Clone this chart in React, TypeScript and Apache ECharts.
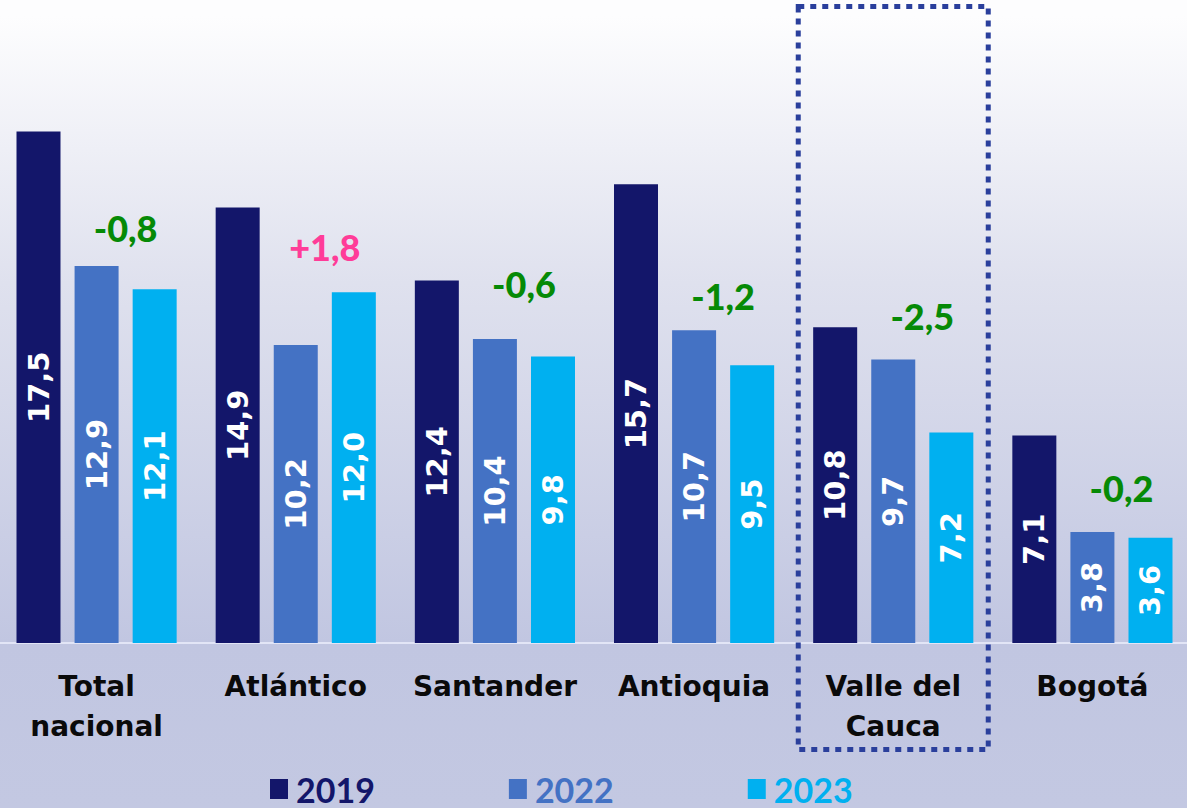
import React, { useEffect, useRef } from "react";
import * as echarts from "echarts";

const categories = ["Total\nnacional", "Atlántico", "Santander", "Antioquia", "Valle del\nCauca", "Bogotá"];
const seriesNames = ["2019", "2022", "2023"];
const values2019 = [17.5, 14.9, 12.4, 15.7, 10.8, 7.1];
const values2022 = [12.9, 10.2, 10.4, 10.7, 9.7, 3.8];
const values2023 = [12.1, 12.0, 9.8, 9.5, 7.2, 3.6];
const changeLabels = ["-0,8", "+1,8", "-0,6", "-1,2", "-2,5", "-0,2"];
const changeLabelHeights = [14.2, 13.55, 12.3, 11.87, 11.19, 5.3];
const highlightedCategory = "Valle del\nCauca";

const colors = ["#13166a", "#4472c4", "#00b0f0"];
const GREEN = "#068a06";
const PINK = "#ff3c98";
const SHIFT = 3;

export default function App() {
  const ref = useRef<HTMLDivElement>(null);

  useEffect(() => {
    if (!ref.current) return;
    const chart = echarts.init(ref.current, null, { renderer: "svg" });
    const fmt = (v: number) => v.toFixed(1).replace(".", ",");
    const valueLabel = {
      show: true,
      position: "inside",
      rotate: 90,
      color: "#ffffff",
      fontFamily: "DejaVu Sans",
      fontWeight: "bold",
      fontSize: 29,
      formatter: (p: any) => fmt(p.value),
    };
    const barSeries = [values2019, values2022, values2023].map((vals, i) => ({
      name: seriesNames[i],
      type: "bar",
      data: vals,
      barWidth: 44,
      barGap: "32%",
      itemStyle: { color: colors[i] },
      label: valueLabel,
    }));

    chart.setOption({
      animation: false,
      grid: { left: 0, right: 0, top: 0, bottom: 165, containLabel: false },
      xAxis: {
        type: "category",
        data: categories,
        axisTick: { show: false },
        axisLine: { show: true, lineStyle: { color: "#e2e5f6", width: 2 } },
        axisLabel: {
          color: "#0a0a0a",
          fontFamily: "DejaVu Sans",
          fontWeight: "bold",
          fontSize: 28,
          lineHeight: 40,
          margin: 23,
          interval: 0,
        },
      },
      yAxis: {
        type: "value",
        min: 0,
        max: 22,
        show: false,
        splitLine: { show: false },
      },
      legend: {
        data: seriesNames.map((n, i) => ({ name: n, textStyle: { color: colors[i] } })),
        left: 270 + SHIFT,
        top: 771,
        padding: 0,
        icon: "rect",
        itemWidth: 18,
        itemHeight: 20,
        itemGap: 134,
        selectedMode: false,
        textStyle: {
          fontFamily: "Lato",
          fontWeight: "bold",
          fontSize: 34,
          lineHeight: 36,
          padding: [0, 0, 0, 3],
        },
      },
      series: [
        ...barSeries,
        {
          type: "custom",
          name: "cambio",
          data: changeLabelHeights.map((h, i) => [i, h]),
          z: 10,
          renderItem: (params: any, api: any) => {
            const p = api.coord([api.value(0), api.value(1)]);
            const t = changeLabels[params.dataIndex];
            return {
              type: "text",
              x: p[0] + 29,
              y: p[1],
              style: {
                text: t,
                fill: t.startsWith("+") ? PINK : GREEN,
                fontFamily: "Lato",
                fontWeight: 900,
                fontSize: 36,
                align: "center",
                verticalAlign: "middle",
              },
            };
          },
        },
      ],
    });

    const cx = chart.convertToPixel({ xAxisIndex: 0 }, highlightedCategory) as number;
    chart.setOption({
      graphic: [
        {
          type: "rect",
          z: 100,
          shape: { x: cx - 95, y: 6.5, width: 190, height: 743 },
          style: { fill: "none", stroke: "#2a3f9c", lineWidth: 5, lineDash: [6, 6] },
        },
      ],
    });

    return () => chart.dispose();
  }, []);

  return (
    <div
      style={{
        position: "fixed",
        left: 0,
        top: 0,
        width: 1187,
        height: 808,
        overflow: "hidden",
        background: "linear-gradient(to bottom, #fdfdfe 2%, #dfe1ee 35%, #c1c6e1 79.5%, #c3c8e2 100%)",
      }}
    >
      <div
        ref={ref}
        style={{ position: "absolute", left: -SHIFT, top: 0, width: 1195, height: 808 }}
      />
    </div>
  );
}
